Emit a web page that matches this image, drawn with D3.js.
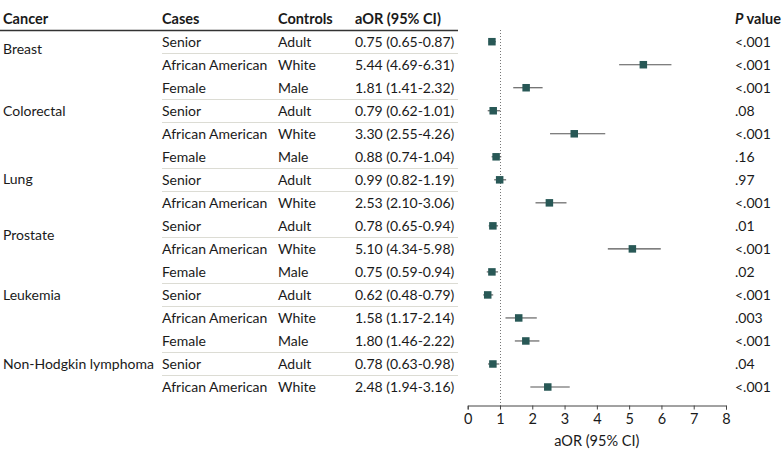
<!DOCTYPE html>
<html>
<head>
<meta charset="utf-8">
<script src="https://cdn.jsdelivr.net/npm/d3@7"></script>
<style>
  html, body { margin: 0; padding: 0; background: #fff; }
  svg { display: block; font-family: Lato, "Noto Sans", sans-serif; }
</style>
</head>
<body>
<svg id="chart" width="783" height="458"></svg>
<script>
// ---- data ----
const cancers = ["Breast", "Colorectal", "Lung", "Prostate", "Leukemia", "Non-Hodgkin lymphoma"];
const cases = ["Senior", "African American", "Female", "Senior", "African American", "Female",
  "Senior", "African American", "Senior", "African American", "Female", "Senior",
  "African American", "Female", "Senior", "African American"];
const controls = ["Adult", "White", "Male", "Adult", "White", "Male",
  "Adult", "White", "Adult", "White", "Male", "Adult",
  "White", "Male", "Adult", "White"];
const aor   = [0.75, 5.44, 1.81, 0.79, 3.30, 0.88, 0.99, 2.53, 0.78, 5.10, 0.75, 0.62, 1.58, 1.80, 0.78, 2.48];
const lower = [0.65, 4.69, 1.41, 0.62, 2.55, 0.74, 0.82, 2.10, 0.65, 4.34, 0.59, 0.48, 1.17, 1.46, 0.63, 1.94];
const upper = [0.87, 6.31, 2.32, 1.01, 4.26, 1.04, 1.19, 3.06, 0.94, 5.98, 0.94, 0.79, 2.14, 2.22, 0.98, 3.16];
const pvals = ["<.001", "<.001", "<.001", ".08", "<.001", ".16", ".97", "<.001", ".01", "<.001",
  ".02", "<.001", ".003", "<.001", ".04", "<.001"];
const xTicks = [0, 1, 2, 3, 4, 5, 6, 7, 8];

// ---- layout ----
const cancerLabelRow = [0.32, 3, 5.95, 8.4, 11, 14];
const colX = { cancer: 3, cases: 162, controls: 278, aor: 355, p: 735 };
const textColor = "#1a1a1a";
const fontSize = 14;

const svg = d3.select("#chart");
const rows = d3.range(aor.length);
const y = d3.scaleLinear().domain([0, rows.length - 1]).range([41.7, 387]);
const x = d3.scaleLinear().domain([0, 8]).range([467.7, 726]);
const axisY = 405.5;

// header
const header = svg.append("g").attr("font-size", 14.5).attr("font-weight", 700).attr("fill", textColor);
[["Cancer", colX.cancer], ["Cases", colX.cases], ["Controls", colX.controls], ["aOR (95% CI)", colX.aor]]
  .forEach(([t, xx]) => header.append("text").attr("x", xx).attr("y", 24).text(t));
const pHead = header.append("text").attr("x", colX.p).attr("y", 24);
pHead.append("tspan").attr("font-style", "italic").text("P");
pHead.append("tspan").text(" value");
svg.append("line").attr("x1", 0).attr("x2", 458).attr("y1", 30.5).attr("y2", 30.5)
  .attr("stroke", "#333").attr("stroke-width", 1.3);

// row separators (not after "African American" rows)
svg.append("g").selectAll("line")
  .data(rows.filter(i => i < rows.length - 1 && cases[i] !== "African American"))
  .join("line")
  .attr("x1", 162).attr("x2", 458)
  .attr("y1", i => Math.round(y(i) + 11) + 0.5).attr("y2", i => Math.round(y(i) + 11) + 0.5)
  .attr("stroke", "#dcdcd4").attr("stroke-width", 1);

// cancer labels
svg.append("g").attr("font-size", fontSize).attr("fill", textColor)
  .selectAll("text").data(cancers).join("text")
  .attr("x", colX.cancer).attr("y", (d, i) => y(cancerLabelRow[i]))
  .attr("dy", "0.35em").text(d => d);

// table columns
const tbl = svg.append("g").attr("font-size", fontSize).attr("fill", textColor);
const fmt = d3.format(".2f");
tbl.selectAll(".cs").data(rows).join("text").attr("class", "cs")
  .attr("x", colX.cases).attr("y", i => y(i)).attr("dy", "0.35em").text(i => cases[i]);
tbl.selectAll(".ct").data(rows).join("text").attr("class", "ct")
  .attr("x", colX.controls).attr("y", i => y(i)).attr("dy", "0.35em").text(i => controls[i]);
tbl.selectAll(".ao").data(rows).join("text").attr("class", "ao")
  .attr("x", colX.aor).attr("y", i => y(i)).attr("dy", "0.35em")
  .text(i => `${fmt(aor[i])} (${fmt(lower[i])}-${fmt(upper[i])})`);
tbl.selectAll(".pv").data(rows).join("text").attr("class", "pv")
  .attr("x", colX.p).attr("y", i => y(i)).attr("dy", "0.35em").text(i => pvals[i]);

// reference line at 1
svg.append("line").attr("x1", Math.round(x(1)) + 0.5).attr("x2", Math.round(x(1)) + 0.5)
  .attr("y1", 30).attr("y2", axisY)
  .attr("stroke", "#777").attr("stroke-width", 1).attr("stroke-dasharray", "1,2");

// CIs and markers
const plot = svg.append("g");
plot.selectAll(".ci").data(rows).join("line").attr("class", "ci")
  .attr("x1", i => x(lower[i])).attr("x2", i => x(upper[i]))
  .attr("y1", i => y(i)).attr("y2", i => y(i))
  .attr("stroke", "#555").attr("stroke-width", 1.1);
const ms = 7.5;
plot.selectAll(".pt").data(rows).join("rect").attr("class", "pt")
  .attr("x", i => x(aor[i]) - ms / 2).attr("y", i => y(i) - ms / 2)
  .attr("width", ms).attr("height", ms).attr("fill", "#285856");

// axis
const axis = svg.append("g").attr("transform", `translate(0,${axisY})`)
  .call(d3.axisBottom(x).tickValues(xTicks).tickFormat(d3.format("d")).tickSize(4).tickPadding(4));
axis.select(".domain").attr("stroke", "#444");
axis.selectAll(".tick line").attr("stroke", "#444");
axis.selectAll(".tick text").attr("font-size", 14.5).attr("fill", textColor)
  .attr("font-family", "Lato, 'Noto Sans', sans-serif");
svg.append("text").attr("x", x(4)).attr("y", 446).attr("text-anchor", "middle")
  .attr("font-size", 14.5).attr("fill", textColor).text("aOR (95% CI)");
</script>
</body>
</html>
